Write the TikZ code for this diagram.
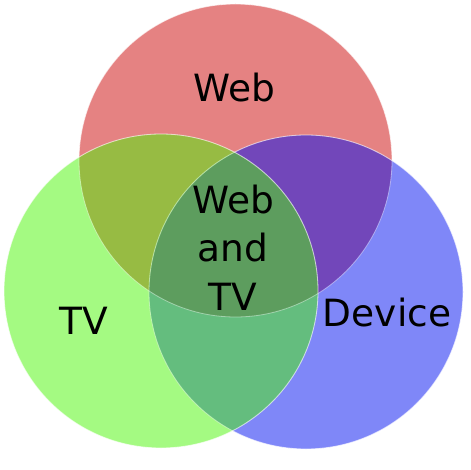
\documentclass[tikz,border=0pt]{standalone}
\usepackage{fontspec}
\setmainfont{DejaVu Sans}
\definecolor{WebClr}{rgb}{0.80,0.02,0.02}
\definecolor{TVClr}{rgb}{0.29,0.96,0.02}
\definecolor{DeviceClr}{rgb}{0.0,0.06,0.95}

\begin{document}
\begin{tikzpicture}[x=1pt,y=-1pt,
  set/.style={fill opacity=0.5,draw=white,draw opacity=0.4,line width=0.8pt},
  setlabel/.style={font=\fontsize{37.5}{48.5}\selectfont,inner sep=0pt,anchor=base,align=center}]
\useasboundingbox (0,0) rectangle (470,470);

\coordinate (W) at (235.5,160.5);
\coordinate (T) at (161,291);
\coordinate (D) at (306,292);

\fill[set,fill=WebClr] (W) circle (156.5);
\fill[set,fill=DeviceClr] (D) circle (157);
\fill[set,fill=TVClr] (T) circle (157);
\draw[set] (W) circle (156.5);
\draw[set] (D) circle (157);
\draw[set] (T) circle (157);

\node[setlabel] (web) at (234,102) {Web};
\node[setlabel] (tv) at (84,334) {TV};
\node[setlabel] (device) at (387,326) {Device};
\node[setlabel] (webtv) at (233,310) {Web\\and\\TV};

\end{tikzpicture}
\end{document}
